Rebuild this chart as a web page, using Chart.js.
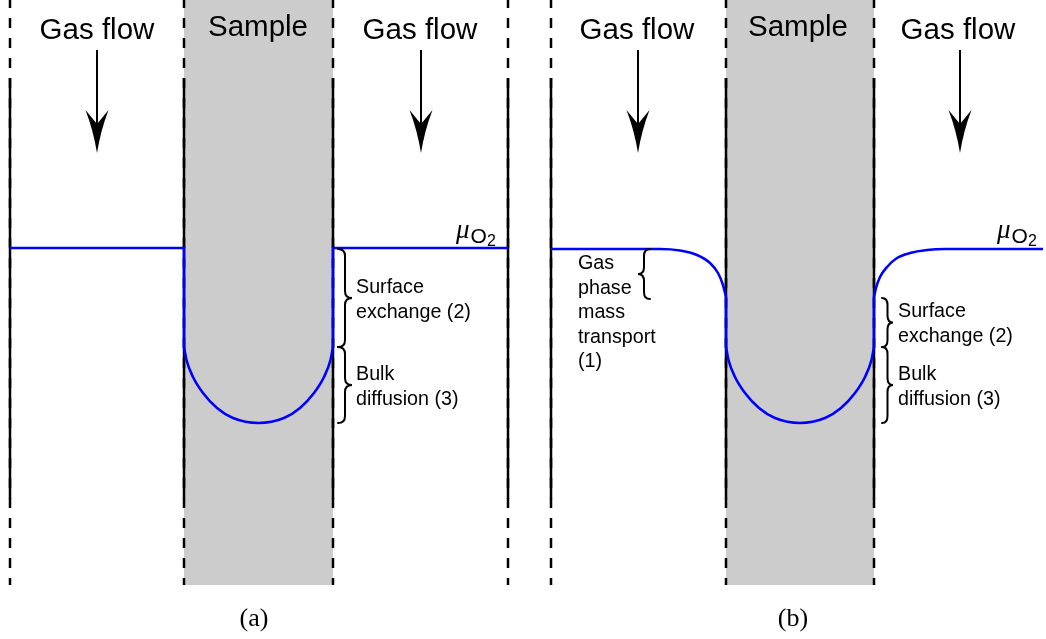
<!DOCTYPE html>
<html>
<head>
<meta charset="utf-8">
<script src="https://cdn.jsdelivr.net/npm/chart.js@4"></script>
<style>
  html, body { margin: 0; padding: 0; background: #ffffff; }
  canvas { display: block; }
</style>
</head>
<body>
<canvas id="diagram" width="1046" height="639"></canvas>
<script>
// ---- Cell geometry (drawing units: x across the cell, y downward along the gas flow) ----
const panelCaptions = ['(a)', '(b)'];
const captionX = [254, 793];
const wallXA = [10, 184, 333, 508];
const wallXB = [551, 726, 874];
const sampleSpans = [[184, 333], [726, 874]];
const wallExtent = [0, 585];        // full reactor height (dashed)
const wallSolid = [78, 499];        // solid section of each wall
const flowArrowX = [97, 421, 638, 960];
const flowArrowY = [50, 153];       // shaft start, arrow tip
const gasFlowTextX = [97, 420, 637, 958];
const sampleTextX = [258, 798];

// ---- Oxygen chemical potential profiles, mu_O2 (lower value drawn further down) ----
const profileA_gasLeft  = [[10, 248], [184, 248], [184, 347]];
const profileA_bulk     = [[184, 347], [186.5, 360], [193, 377], [203, 393], [217, 408], [233, 418], [258.5, 423],
                           [284, 418], [300, 408], [314, 393], [324, 377], [330.5, 360], [333, 347]];
const profileA_gasRight = [[333, 347], [333, 248], [508, 248]];

const profileB_gasLeft  = [[551, 249], [660, 249], [680, 250.5], [697, 255], [710, 263], [718, 273], [723, 285], [726, 297]];
const profileB_surfL    = [[726, 297], [726, 347]];
const profileB_bulk     = [[726, 347], [728.5, 360], [735, 377], [745, 393], [759, 408], [775, 418], [800, 423],
                           [825, 418], [841, 408], [855, 393], [865, 377], [871.5, 360], [874, 347]];
const profileB_surfR    = [[874, 347], [874, 297]];
const profileB_gasRight = [[874, 297], [876, 288], [880, 277], [887, 267], [897, 258], [910, 253], [927, 250], [945, 249], [1043, 249]];

const muLabelX = [456, 997];
const muLabelY = 238;

// ---- Process annotations: braces and their labels ----
const braces = [
  { xEnd: 338, xTip: 352, y0: 249, y1: 347 },
  { xEnd: 338, xTip: 352, y0: 347, y1: 423 },
  { xEnd: 650, xTip: 638, y0: 249, y1: 299 },
  { xEnd: 882, xTip: 893, y0: 298, y1: 347 },
  { xEnd: 882, xTip: 893, y0: 347, y1: 423 }
];
const processLabels = [
  { x: 356, y: 293, lines: ['Surface', 'exchange (2)'] },
  { x: 356, y: 380, lines: ['Bulk', 'diffusion (3)'] },
  { x: 578, y: 269, lines: ['Gas', 'phase', 'mass', 'transport', '(1)'] },
  { x: 898, y: 317, lines: ['Surface', 'exchange (2)'] },
  { x: 898, y: 380, lines: ['Bulk', 'diffusion (3)'] }
];

// ---- Datasets ----
const BLUE = '#0000ff';
const INK = '#000000';
const toPts = arr => arr.map(([x, y]) => ({ x, y }));

const datasets = [];

function profile(arr, curved) {
  datasets.push({
    data: toPts(arr),
    borderColor: BLUE,
    borderWidth: 2.6,
    pointRadius: 0,
    fill: false,
    cubicInterpolationMode: curved ? 'monotone' : 'default',
    tension: 0,
    borderCapStyle: 'butt',
    borderJoinStyle: 'miter',
    order: 0
  });
}
profile(profileA_gasLeft, false);
profile(profileA_bulk, true);
profile(profileA_gasRight, false);
profile(profileB_gasLeft, true);
profile(profileB_surfL, false);
profile(profileB_bulk, true);
profile(profileB_surfR, false);
profile(profileB_gasRight, true);

// reactor walls: dashed over the full height, solid in the middle section
[...wallXA, ...wallXB].forEach(x => {
  datasets.push({
    data: [{ x, y: wallExtent[0] }, { x, y: wallExtent[1] }],
    borderColor: INK, borderWidth: 2.5, borderDash: [10, 10], borderDashOffset: 2,
    pointRadius: 0, fill: false, order: 1
  });
  datasets.push({
    data: [{ x, y: wallSolid[0] }, { x, y: wallSolid[1] }],
    borderColor: INK, borderWidth: 2.5, pointRadius: 0, fill: false, order: 1
  });
});

// gas flow arrow shafts
flowArrowX.forEach(x => {
  datasets.push({
    data: [{ x, y: flowArrowY[0] }, { x, y: flowArrowY[1] - 26 }],
    borderColor: INK, borderWidth: 2, pointRadius: 0, fill: false, order: 1
  });
});

// grey sample slabs
sampleSpans.forEach(([a, b]) => {
  datasets.push({
    data: [{ x: a, y: wallExtent[1] }, { x: b, y: wallExtent[1] }],
    borderWidth: 0, borderColor: 'rgba(0,0,0,0)', backgroundColor: '#cccccc',
    pointRadius: 0, fill: { value: 0 }, order: 5
  });
});

// ---- Annotation drawing (arrow heads, braces, text) ----
const annotations = {
  id: 'cellAnnotations',
  afterDatasetsDraw(chart) {
    const { ctx } = chart;
    const sx = v => chart.scales.x.getPixelForValue(v);
    const sy = v => chart.scales.y.getPixelForValue(v);
    ctx.save();

    // arrow heads
    ctx.fillStyle = INK;
    flowArrowX.forEach(xv => {
      const x = sx(xv), tip = sy(flowArrowY[1]);
      const back = sy(flowArrowY[1] - 43), notch = sy(flowArrowY[1] - 29);
      ctx.beginPath();
      ctx.moveTo(x, tip);
      ctx.quadraticCurveTo(x - 3.5, tip - 22, x - 11.5, back);
      ctx.lineTo(x, notch);
      ctx.lineTo(x + 11.5, back);
      ctx.quadraticCurveTo(x + 3.5, tip - 22, x, tip);
      ctx.closePath();
      ctx.fill();
    });

    // braces
    ctx.strokeStyle = INK;
    ctx.lineWidth = 2;
    ctx.lineCap = 'round';
    braces.forEach(b => {
      const xe = sx(b.xEnd), xt = sx(b.xTip), y0 = sy(b.y0), y1 = sy(b.y1);
      const xm = (xe + xt) / 2, ym = (y0 + y1) / 2;
      const q = Math.min(7, (y1 - y0) / 5);
      ctx.beginPath();
      ctx.moveTo(xe, y0);
      ctx.quadraticCurveTo(xm, y0, xm, y0 + q);
      ctx.lineTo(xm, ym - q);
      ctx.quadraticCurveTo(xm, ym, xt, ym);
      ctx.quadraticCurveTo(xm, ym, xm, ym + q);
      ctx.lineTo(xm, y1 - q);
      ctx.quadraticCurveTo(xm, y1, xe, y1);
      ctx.stroke();
    });

    // headings
    ctx.fillStyle = INK;
    ctx.textBaseline = 'alphabetic';
    ctx.textAlign = 'center';
    ctx.font = '29.5px "Liberation Sans", Arial, sans-serif';
    gasFlowTextX.forEach(x => ctx.fillText('Gas flow', sx(x), sy(39)));
    sampleTextX.forEach(x => ctx.fillText('Sample', sx(x), sy(36)));

    // process labels
    ctx.textAlign = 'left';
    ctx.font = '19.7px "Liberation Sans", Arial, sans-serif';
    processLabels.forEach(l => {
      l.lines.forEach((t, i) => ctx.fillText(t, sx(l.x), sy(l.y + i * 24.5)));
    });

    // mu_O2 labels
    muLabelX.forEach(x => {
      ctx.font = 'italic 27px "Liberation Serif", serif';
      ctx.fillText('\u03bc', sx(x), sy(muLabelY));
      const w = ctx.measureText('\u03bc').width;
      ctx.font = '21px "Liberation Sans", Arial, sans-serif';
      ctx.fillText('O', sx(x) + w + 1, sy(muLabelY + 5));
      const wo = ctx.measureText('O').width;
      ctx.font = '16px "Liberation Sans", Arial, sans-serif';
      ctx.fillText('2', sx(x) + w + 1 + wo, sy(muLabelY + 8));
    });

    // panel captions
    ctx.textAlign = 'center';
    ctx.font = '26px "Liberation Serif", serif';
    panelCaptions.forEach((c, i) => ctx.fillText(c, sx(captionX[i]), sy(626)));

    ctx.restore();
  }
};

new Chart(document.getElementById('diagram'), {
  type: 'line',
  data: { datasets },
  options: {
    responsive: false,
    animation: false,
    layout: { padding: 0 },
    events: [],
    scales: {
      x: { type: 'linear', min: 0, max: 1046, display: false },
      y: { type: 'linear', min: 0, max: 639, reverse: true, display: false }
    },
    plugins: { legend: { display: false }, tooltip: { enabled: false } }
  },
  plugins: [annotations]
});
</script>
</body>
</html>
